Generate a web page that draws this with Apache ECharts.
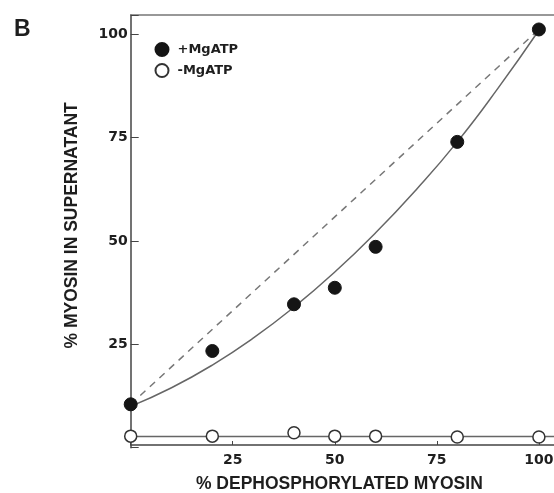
<!DOCTYPE html>
<html><head><meta charset="utf-8">
<script src="https://cdn.jsdelivr.net/npm/echarts@6/dist/echarts.min.js"></script>
<style>html,body{margin:0;padding:0;background:#fff}#c{width:554px;height:493px}</style>
</head><body><div id="c"></div>
<script>
// Data
const xPlus = [0, 20, 40, 50, 60, 80, 100];
const yPlus = [10.5, 23.4, 34.7, 38.7, 48.6, 74, 101.2];
const xMinus = [0, 20, 40, 50, 60, 80, 100];
const yMinus = [2.8, 2.8, 3.6, 2.8, 2.8, 2.6, 2.6];
// fitted curve (+MgATP)
const curveX = [0, 10, 20, 30, 40, 50, 60, 70, 80, 90, 100];
const curveY = [10, 14.5, 20, 26.5, 34, 42.5, 52, 62.5, 74, 87, 101];
// dashed ideal line
const dashX = [0, 100];
const dashY = [10.5, 101.2];
// flat line for -MgATP
const flatX = [0, 103.7];
const flatY = [2.7, 2.7];
const xTicks = [25, 50, 75, 100];
const yTicks = [25, 50, 75, 100];

const zip = (a, b) => a.map((v, i) => [v, b[i]]);
const font = 'DejaVu Sans, Liberation Sans, Arial, sans-serif';
const tfont = 'Liberation Sans, Arial, Helvetica, sans-serif';
const ink = '#1e1e1e';

const chart = echarts.init(document.getElementById('c'));
chart.setOption({
  animation: false,
  backgroundColor: '#fff',
  title: { text: 'B', left: 9, top: 13, textStyle: { fontFamily: tfont, fontSize: 23, fontWeight: 'bold', color: ink } },
  grid: { left: 130.7, right: 0, top: 15, bottom: 45.3, containLabel: false, outerBoundsMode: 'none' },
  legend: {
    data: ['+MgATP', '-MgATP'], orient: 'vertical', left: 149.5, top: 37,
    itemWidth: 13, itemHeight: 13, itemGap: 6, icon: 'circle',
    textStyle: { fontFamily: font, fontSize: 13, fontWeight: 'bold', color: ink, padding: [0, 0, 0, 4] }
  },
  xAxis: [{
    type: 'value', min: 0, max: 103.7, interval: 25, position: 'bottom', offset: -2.7,
    name: '% DEPHOSPHORYLATED MYOSIN', nameLocation: 'middle', nameGap: 30,
    nameTextStyle: { fontFamily: tfont, fontSize: 17.5, fontWeight: 'bold', color: ink, padding: [0, 6, 0, 0] },
    axisLine: { show: true, onZero: false, lineStyle: { color: '#444', width: 1.5 } },
    axisTick: { show: true, inside: true, length: 4, lineStyle: { color: '#444' } },
    axisLabel: { margin: 8, fontFamily: font, fontSize: 14, fontWeight: 'bold', color: ink,
      formatter: v => xTicks.includes(v) ? String(v) : '' },
    splitLine: { show: false }
  }, {
    type: 'value', min: 0, max: 103.7, position: 'top',
    axisLine: { show: true, onZero: false, lineStyle: { color: '#777', width: 1.5 } },
    axisTick: { show: false }, axisLabel: { show: false }, splitLine: { show: false }
  }],
  yAxis: {
    type: 'value', min: 0, max: 104.7, interval: 25,
    name: '% MYOSIN IN SUPERNATANT', nameLocation: 'middle', nameGap: 50, nameRotate: 90,
    nameTextStyle: { fontFamily: tfont, fontSize: 17.5, fontWeight: 'bold', color: ink, padding: [0, 0, 0, 12] },
    axisLine: { show: true, onZero: false, lineStyle: { color: '#444', width: 1.5 } },
    axisTick: { show: true, inside: true, length: 8, lineStyle: { color: '#444' } },
    axisLabel: { margin: 3, fontFamily: font, fontSize: 14, fontWeight: 'bold', color: ink,
      formatter: v => yTicks.includes(v) ? String(v) : '' },
    splitLine: { show: false }
  },
  series: [
    { name: 'ideal', type: 'line', data: zip(dashX, dashY), symbol: 'none', silent: true,
      lineStyle: { color: '#777', width: 1.5, type: [7, 6] }, z: 2 },
    { name: 'fit', type: 'line', data: zip(curveX, curveY), symbol: 'none', smooth: true, silent: true,
      lineStyle: { color: '#666', width: 1.5 }, z: 2 },
    { name: 'flat', type: 'line', data: zip(flatX, flatY), symbol: 'none', silent: true,
      lineStyle: { color: '#666', width: 1.5 }, z: 2 },
    { name: '+MgATP', type: 'scatter', data: zip(xPlus, yPlus), symbol: 'circle', symbolSize: 13,
      itemStyle: { color: '#151515', borderColor: '#151515', borderWidth: 1, opacity: 1 }, z: 5 },
    { name: '-MgATP', type: 'scatter', data: zip(xMinus, yMinus), symbol: 'circle', symbolSize: 12,
      itemStyle: { color: '#fff', borderColor: '#333', borderWidth: 1.5, opacity: 1 }, z: 5 }
  ]
});
</script></body></html>
